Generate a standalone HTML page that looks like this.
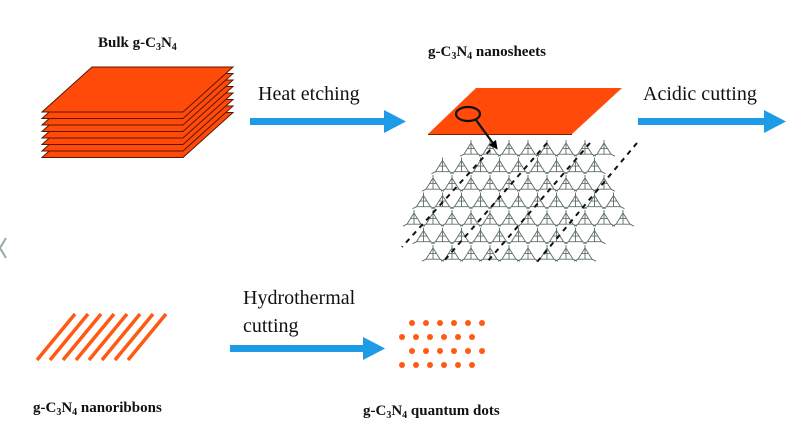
<!DOCTYPE html>
<html><head><meta charset="utf-8"><style>
html,body{margin:0;padding:0;background:#fff;}
svg{display:block}
.b{font-family:"Liberation Serif",serif;font-weight:bold;font-size:15px;fill:#111}
.r{font-family:"Liberation Serif",serif;font-size:20px;fill:#111}
</style></head><body>
<svg id="s" width="800" height="435" viewBox="0 0 800 435" xmlns="http://www.w3.org/2000/svg">
<defs>
<marker id="ah" markerWidth="4" markerHeight="4" refX="2" refY="2" orient="auto"><path d="M0,0 L4,2 L0,4z" fill="#000"/></marker>
</defs>
<path d="M6,238 L0,248 L6,258" stroke="#9aa" stroke-width="2" fill="none"/>

<text class="b" x="98" y="47">Bulk g-C<tspan font-size="10" dy="3">3</tspan><tspan dy="-3">N</tspan><tspan font-size="10" dy="3">4</tspan></text>
<g id="stack"></g>

<text class="r" x="258" y="100">Heat etching</text>
<rect x="250" y="118" width="136" height="7" fill="#1e9be6"/>
<path d="M384,110 L406,121.5 L384,133z" fill="#1e9be6"/>

<text class="b" x="428" y="56">g-C<tspan font-size="10" dy="3">3</tspan><tspan dy="-3">N</tspan><tspan font-size="10" dy="3">4</tspan><tspan dy="-3"> nanosheets</tspan></text>
<path d="M476,88 L622,88 L572,134 L428,134z" fill="#ff4a0a"/>
<line x1="428" y1="134.5" x2="572" y2="134.5" stroke="#7a2000" stroke-width="1"/>

<g id="net" stroke="#5d6d6d" stroke-width="0.9" fill="none"></g>
<g stroke="#111" stroke-width="2" stroke-dasharray="5,5">
<line x1="637" y1="143" x2="537" y2="262"/>
<line x1="590" y1="143" x2="487" y2="262"/>
<line x1="547" y1="143" x2="443" y2="262"/>
<line x1="490" y1="150" x2="402" y2="247"/>
</g>
<ellipse cx="468" cy="114" rx="12" ry="7" fill="none" stroke="#111" stroke-width="2.2"/>
<line x1="476" y1="120" x2="495" y2="146" stroke="#111" stroke-width="2.2" marker-end="url(#ah)"/>

<text class="r" x="643" y="100">Acidic cutting</text>
<rect x="638" y="118" width="128" height="7" fill="#1e9be6"/>
<path d="M764,110 L786,121.5 L764,133z" fill="#1e9be6"/>

<g id="rib" stroke="#ff5a14" stroke-width="3.5"></g>
<text class="r" x="243" y="304">Hydrothermal</text>
<text class="r" x="243" y="332">cutting</text>
<rect x="230" y="345" width="135" height="7" fill="#1e9be6"/>
<path d="M363,337 L385,348.5 L363,360z" fill="#1e9be6"/>
<g id="dots" fill="#ff5a14"></g>

<text class="b" x="33" y="412">g-C<tspan font-size="10" dy="3">3</tspan><tspan dy="-3">N</tspan><tspan font-size="10" dy="3">4</tspan><tspan dy="-3"> nanoribbons</tspan></text>
<text class="b" x="363" y="415">g-C<tspan font-size="10" dy="3">3</tspan><tspan dy="-3">N</tspan><tspan font-size="10" dy="3">4</tspan><tspan dy="-3"> quantum dots</tspan></text>
</svg>
<script>
var NS="http://www.w3.org/2000/svg";
function el(p,t,a){var e=document.createElementNS(NS,t);for(var k in a)e.setAttribute(k,a[k]);p.appendChild(e);return e;}
var st=document.getElementById("stack");
for(var i=7;i>=0;i--){var o=i*6.5;
 el(st,"path",{d:"M92,"+(67+o)+" L233,"+(67+o)+" L183,"+(112+o)+" L42,"+(112+o)+"z",fill:"#ff4a0a",stroke:"#5a1800","stroke-width":"1"});}
var net=document.getElementById("net");
function inside(x,y){
 if(y<145||y>262)return false;
 var l,r;
 if(y<215){var t=(y-145)/70;l=460-65*t;r=605+25*t;}
 else{var t=(y-215)/47;l=395+30*t;r=630-40*t;}
 return x>l&&x<r;}
for(var row=0;row<7;row++){var y=150+row*17.5;
 for(var c=0;c<14;c++){var x=395+c*19+(row%2)*9.5;
  if(!inside(x,y))continue;
  var s=7;
  el(net,"path",{d:"M"+x+","+(y-s)+" L"+(x+s)+","+(y+s*0.6)+" L"+(x-s)+","+(y+s*0.6)+"z"});
  el(net,"path",{d:"M"+x+","+(y-s)+" L"+x+","+(y-s-3)+" M"+(x+s)+","+(y+s*0.6)+" l4,2 M"+(x-s)+","+(y+s*0.6)+" l-4,2 M"+x+","+(y-s)+" L"+x+","+(y+s*0.6)+" M"+(x-s/2)+","+(y-s*0.2)+" L"+(x+s/2)+","+(y-s*0.2)});
 }}
var rib=document.getElementById("rib");
for(var i=0;i<8;i++){var bx=37+i*13;el(rib,"line",{x1:bx,y1:360,x2:bx+38,y2:314});}
var dots=document.getElementById("dots");
var rows=[[412,323],[402,337],[412,351],[402,365]];
rows.forEach(function(r){for(var k=0;k<6;k++)el(dots,"circle",{cx:r[0]+k*14,cy:r[1],r:3});});
</script>
</body></html>
